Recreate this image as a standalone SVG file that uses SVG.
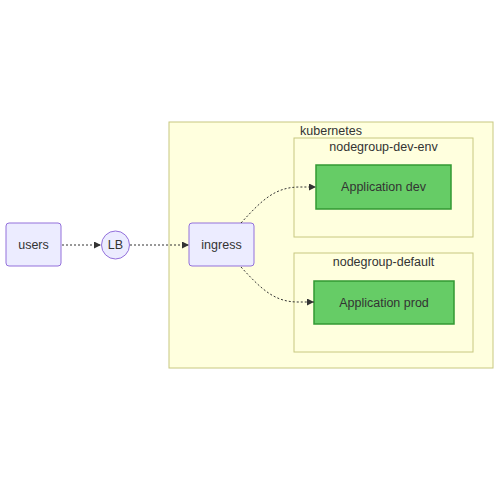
<svg xmlns="http://www.w3.org/2000/svg" width="500" height="490" viewBox="0 0 500 490">
<style>
text{font-family:"Liberation Sans",Arial,sans-serif;font-size:12.5px;fill:#333;text-anchor:middle;dominant-baseline:central}
.cl{fill:#ffffde;stroke:#c8c880;stroke-width:1}
.nd{fill:#ececff;stroke:#9370db;stroke-width:1}
.app{fill:#66cc66;stroke:#339933;stroke-width:1.5}
.e{fill:none;stroke:#333;stroke-width:1;stroke-dasharray:2 2}
</style>
<defs>
<marker id="ah" viewBox="0 0 10 10" refX="10" refY="5" markerWidth="7" markerHeight="7" orient="auto" markerUnits="userSpaceOnUse">
<path d="M0,0L10,5L0,10z" fill="#333"/>
</marker>
</defs>
<g id="kubernetes"><rect class="cl" x="169" y="122" width="324" height="246"/><text x="331" y="131">kubernetes</text></g>
<g id="nodegroup-dev-env"><rect class="cl" x="294" y="138" width="179" height="99"/><text x="383.5" y="147">nodegroup-dev-env</text></g>
<g id="nodegroup-default"><rect class="cl" x="294" y="253" width="179" height="99"/><text x="383.5" y="262">nodegroup-default</text></g>
<g id="users"><rect class="nd" x="6" y="223" width="55" height="43" rx="3"/><text x="33.5" y="245">users</text></g>
<g id="LB"><circle class="nd" cx="115.5" cy="245" r="14"/><text x="115.5" y="245">LB</text></g>
<g id="ingress"><rect class="nd" x="189" y="223" width="65" height="43" rx="3"/><text x="221.5" y="245">ingress</text></g>
<g id="appdev"><rect class="app" x="316" y="165" width="135" height="44"/><text x="383.5" y="187">Application dev</text></g>
<g id="appprod"><rect class="app" x="314" y="281" width="140" height="43"/><text x="384" y="302.5">Application prod</text></g>
<g id="edges">
<path class="e" d="M62,245L101,245" marker-end="url(#ah)"/>
<path class="e" d="M130,245L189,245" marker-end="url(#ah)"/>
<path class="e" d="M241,223C262,200 275,187 300,187L316,187" marker-end="url(#ah)"/>
<path class="e" d="M241,267C262,290 275,302 298,302L314,302" marker-end="url(#ah)"/>
</g>
</svg>
